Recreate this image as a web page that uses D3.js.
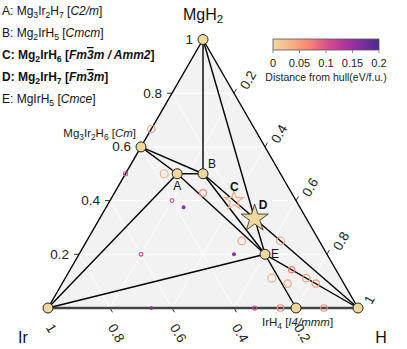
<!DOCTYPE html>
<html>
<head>
<meta charset="utf-8">
<script src="https://cdn.jsdelivr.net/npm/d3@7"></script>
<style>
  body { margin: 0; background: #fff; }
  text { font-family: "Liberation Sans", Arial, Helvetica, sans-serif; }
</style>
</head>
<body>
<svg id="chart" width="407" height="349"></svg>
<script>
// compositions are [Ir, H, MgH2] fractions
const stableNames = ["MgH2", "Ir", "H", "Mg3Ir2H6", "A", "B", "E", "IrH4", "D"];
const stableComp = [
  [0, 0, 1], [1, 0, 0], [0, 1, 0],
  [0.4, 0, 0.6], [1/3, 1/6, 1/2], [1/4, 1/4, 1/2],
  [0.2, 0.6, 0.2], [0.2, 0.8, 0], [1/6, 1/2, 1/3]
];
const tieLines = [
  ["MgH2", "Mg3Ir2H6"], ["Mg3Ir2H6", "Ir"], ["MgH2", "B"], ["MgH2", "D"], ["D", "E"],
  ["B", "D"], ["D", "H"], ["B", "E"], ["A", "B"], ["A", "Mg3Ir2H6"], ["B", "Mg3Ir2H6"],
  ["A", "Ir"], ["A", "E"], ["Ir", "E"], ["E", "IrH4"], ["E", "H"], ["MgH2", "H"]
];
const bottomLines = [["Ir", "IrH4"], ["IrH4", "H"]];

const unstableComp = [
  [1/3, 0, 2/3], [0.5, 0, 0.5], [0.375, 0.125, 0.5], [2/7, 2/7, 3/7],
  [0.4, 0.2, 0.4], [0.375, 0.25, 0.375], [0.25, 0.5, 0.25], [0.125, 0.625, 0.25],
  [0.6, 0.2, 0.2], [0.3, 0.5, 0.2], [1/7, 5/7, 1/7], [2/9, 6/9, 1/9],
  [2/11, 8/11, 1/11], [1/9, 7/9, 1/9], [1/11, 9/11, 1/11],
  [2/3, 1/3, 0], [1/3, 2/3, 0], [0.25, 0.75, 0], [0.11, 0.89, 0]
];
const unstableDist = [
  0.045, 0.11, 0.035, 0.06,
  0.12, 0.16, 0.045, 0.04,
  0.12, 0.16, 0.07, 0.035,
  0.045, 0.045, 0.05,
  0.17, 0.11, 0.065, 0.065
];
const starComp = [0.2, 0.4, 0.4];   // C, Mg2IrH6
const starDist = 0.04;

const legendItems = [
  { key: "A", formula: "Mg3Ir2H7", sg: "C2/m", bold: false },
  { key: "B", formula: "Mg2IrH5", sg: "Cmcm", bold: false },
  { key: "C", formula: "Mg2IrH6", sg: "Fm-3m / Amm2", bold: true },
  { key: "D", formula: "Mg2IrH7", sg: "Fm-3m", bold: true },
  { key: "E", formula: "MgIrH5", sg: "Cmce", bold: false }
];
const tickVals = [0.2, 0.4, 0.6, 0.8, 1];
const tickLabels = ["0.2", "0.4", "0.6", "0.8", "1"];
const cbTicks = [0, 0.05, 0.1, 0.15, 0.2];
const cbTickLabels = ["0", "0.05", "0.1", "0.15", "0.2"];

const svg = d3.select("#chart");
const xS = d3.scaleLinear().domain([0, 1]).range([48, 358]);
const yS = d3.scaleLinear().domain([0, 1]).range([308, 39.5]);
const proj = c => [xS(c[1] + c[2] / 2), yS(c[2])];
const pos = {};
stableNames.forEach((n, i) => pos[n] = proj(stableComp[i]));

const color = d3.scaleLinear()
  .domain([0, 0.04, 0.07, 0.1, 0.13, 0.16, 0.2])
  .range(["#f2d9a0", "#f6ab82", "#f78278", "#dc528c", "#b8389a", "#8a2ea2", "#4a2c8e"])
  .clamp(true);
const rScale = d3.scaleLinear().domain([0.03, 0.06, 0.1, 0.17]).range([4.1, 3.4, 2.1, 1.3]).clamp(true);

// helper: formula with subscript digits, space group with overlined digits ("-3")
function addFormula(t, f) {
  let shifted = false;
  f.split(/(\d+)/).filter(s => s).forEach(s => {
    if (/^\d+$/.test(s)) {
      t.append("tspan").attr("font-size", "0.72em").attr("dy", 3).text(s);
      shifted = true;
    } else {
      t.append("tspan").attr("dy", shifted ? -3 : 0).text(s);
      shifted = false;
    }
  });
  return shifted;
}
function addSG(t, sg, shifted) {
  t.append("tspan").attr("dy", shifted ? -3 : 0).text(" [");
  sg.split(/(-\d)/).filter(s => s).forEach(s => {
    const sp = t.append("tspan").attr("font-style", "italic");
    if (s[0] === "-") sp.style("text-decoration", "overline").text(s[1]);
    else sp.text(s);
  });
  t.append("tspan").text("]");
}

// triangle background + grid
const tri = [[1, 0, 0], [0, 1, 0], [0, 0, 1]].map(proj);
svg.append("path").attr("d", "M" + tri.join("L") + "Z").attr("fill", "#f2f2f2");
const grid = svg.append("g").attr("stroke", "#fff").attr("stroke-width", 1);
[0.2, 0.4, 0.6, 0.8].forEach(v => {
  [[[1 - v, 0, v], [0, 1 - v, v]], [[v, 1 - v, 0], [v, 0, 1 - v]], [[1 - v, v, 0], [0, v, 1 - v]]]
    .forEach(([a, b]) => {
      const p = proj(a), q = proj(b);
      grid.append("line").attr("x1", p[0]).attr("y1", p[1]).attr("x2", q[0]).attr("y2", q[1]);
    });
});

// ticks
const ax = svg.append("g").attr("font-size", 13.5).attr("fill", "#222");
tickVals.forEach((v, i) => {
  // left: MgH2
  let p = proj([1 - v, 0, v]);
  ax.append("line").attr("x1", p[0]).attr("y1", p[1]).attr("x2", p[0] - 5).attr("y2", p[1]).attr("stroke", "#333");
  ax.append("text").attr("x", p[0] - 10).attr("y", p[1]).attr("text-anchor", "end")
    .attr("dominant-baseline", "central").text(tickLabels[i]);
  // bottom: Ir
  p = proj([v, 1 - v, 0]);
  ax.append("line").attr("x1", p[0]).attr("y1", p[1]).attr("x2", p[0] + 2.5).attr("y2", p[1] + 4.3).attr("stroke", "#333");
  ax.append("text").attr("dominant-baseline", "central")
    .attr("transform", `translate(${p[0] + 1.5},${p[1] + 17}) rotate(60)`).text(tickLabels[i]);
  // right: H
  p = proj([0, v, 1 - v]);
  ax.append("line").attr("x1", p[0]).attr("y1", p[1]).attr("x2", p[0] + 2.5).attr("y2", p[1] - 4.3).attr("stroke", "#333");
  ax.append("text").attr("dominant-baseline", "central")
    .attr("transform", `translate(${p[0] + 9.5},${p[1] - 5}) rotate(-60)`).text(tickLabels[i]);
});

// hull lines
const hull = svg.append("g");
tieLines.forEach(([a, b]) => {
  hull.append("line").attr("x1", pos[a][0]).attr("y1", pos[a][1]).attr("x2", pos[b][0]).attr("y2", pos[b][1])
    .attr("stroke", "#000").attr("stroke-width", 1.4);
});
bottomLines.forEach(([a, b]) => {
  hull.append("line").attr("x1", pos[a][0]).attr("y1", pos[a][1]).attr("x2", pos[b][0]).attr("y2", pos[b][1])
    .attr("stroke", "#444").attr("stroke-width", 2.4);
});

// unstable points
svg.append("g").selectAll("circle").data(unstableComp).join("circle")
  .attr("cx", d => proj(d)[0]).attr("cy", d => proj(d)[1])
  .attr("r", (d, i) => rScale(unstableDist[i]))
  .attr("fill", (d, i) => unstableDist[i] > 0.14 ? color(unstableDist[i]) : "none")
  .attr("stroke", (d, i) => color(unstableDist[i]))
  .attr("stroke-width", (d, i) => unstableDist[i] > 0.1 ? 1.1 : 1.2);

// C star (above hull)
const cp = proj(starComp);
svg.append("path").attr("d", d3.symbol(d3.symbolStar, 110)())
  .attr("transform", `translate(${cp[0]},${cp[1]})`)
  .attr("fill", "none").attr("stroke", color(starDist)).attr("stroke-width", 1.2);

// stable points
stableNames.forEach(n => {
  const p = pos[n];
  if (n === "D") {
    svg.append("path").attr("d", d3.symbol(d3.symbolStar, 230)())
      .attr("transform", `translate(${p[0]},${p[1]})`)
      .attr("fill", "#efd89b").attr("stroke", "#222").attr("stroke-width", 0.8);
  } else {
    svg.append("circle").attr("cx", p[0]).attr("cy", p[1]).attr("r", 5)
      .attr("fill", "#efd89b").attr("stroke", "#222").attr("stroke-width", 1);
  }
});

// point labels
const lab = svg.append("g").attr("font-size", 12).attr("fill", "#111");
lab.append("text").attr("x", pos.A[0]).attr("y", pos.A[1] + 16).attr("text-anchor", "middle").text("A");
lab.append("text").attr("x", pos.B[0] + 5).attr("y", pos.B[1] - 6).text("B");
lab.append("text").attr("x", cp[0] - 4).attr("y", cp[1] - 10).attr("font-weight", "bold").text("C");
lab.append("text").attr("x", pos.D[0] + 4).attr("y", pos.D[1] - 10).attr("font-weight", "bold").text("D");
lab.append("text").attr("x", pos.E[0] + 6).attr("y", pos.E[1] + 4).text("E");

// compound labels
const sl = svg.append("g").attr("font-size", 11.5).attr("fill", "#222");
let t = sl.append("text").attr("x", 136).attr("y", 137).attr("text-anchor", "end");
addSG(t, "Cm", addFormula(t, "Mg3Ir2H6"));
t = sl.append("text").attr("x", 262).attr("y", 326);
addSG(t, "I4/mmm", addFormula(t, "IrH4"));

// corner labels
const cl = svg.append("g").attr("font-size", 16).attr("fill", "#111");
t = cl.append("text").attr("x", 203).attr("y", 20).attr("text-anchor", "middle");
addFormula(t, "MgH2");
cl.append("text").attr("x", 23).attr("y", 343).attr("text-anchor", "middle").text("Ir");
cl.append("text").attr("x", 381).attr("y", 343).attr("text-anchor", "middle").text("H");

// legend
const lg = svg.append("g").attr("font-size", 12).attr("fill", "#111");
legendItems.forEach((d, i) => {
  const tt = lg.append("text").attr("x", 2).attr("y", 15 + i * 22)
    .attr("font-weight", d.bold ? "bold" : "normal");
  tt.append("tspan").text(d.key + ": ");
  addSG(tt, d.sg, addFormula(tt, d.formula));
});

// colorbar
const cbX = d3.scaleLinear().domain([0, 0.2]).range([273, 379]);
const grad = svg.append("defs").append("linearGradient").attr("id", "cb");
d3.range(0, 1.001, 0.05).forEach(f => {
  grad.append("stop").attr("offset", f).attr("stop-color", color(f * 0.2));
});
svg.append("rect").attr("x", 273).attr("y", 39).attr("width", 106).attr("height", 11)
  .attr("fill", "url(#cb)").attr("stroke", "#555").attr("stroke-width", 0.8);
const cb = svg.append("g").attr("font-size", 11).attr("fill", "#222");
cbTicks.forEach((v, i) => {
  cb.append("line").attr("x1", cbX(v)).attr("x2", cbX(v)).attr("y1", 50).attr("y2", 53).attr("stroke", "#888");
  cb.append("text").attr("x", cbX(v)).attr("y", 67).attr("text-anchor", "middle").text(cbTickLabels[i]);
});
cb.append("text").attr("x", 326).attr("y", 81).attr("text-anchor", "middle").attr("font-size", 10.5)
  .text("Distance from hull(eV/f.u.)");
</script>
</body>
</html>
